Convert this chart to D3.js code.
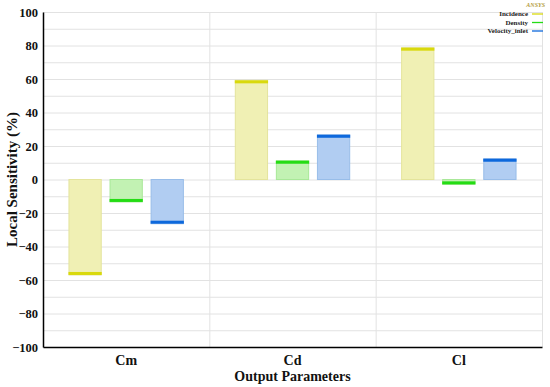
<!DOCTYPE html>
<html>
<head>
<meta charset="utf-8">
<script src="https://cdn.jsdelivr.net/npm/d3@7"></script>
<style>
  body { margin: 0; background: #fff; }
  svg text { font-family: "Liberation Serif", "Times New Roman", serif; font-weight: bold; }
</style>
</head>
<body>
<script>
// values (percent)
const categories = ["Cm", "Cd", "Cl"];
const series = ["Incidence", "Density", "Velocity_inlet"];
const incidence = [-57, 59.2, 78.7];
const density = [-13.4, 11.2, -2.9];
const velocity = [-26.4, 26.7, 12.4];
const yTicks = [-100, -80, -60, -40, -20, 0, 20, 40, 60, 80, 100];

const fills = { Incidence: "#f0f0b4", Density: "#c2f2b3", Velocity_inlet: "#b1cdf2" };
const strokes = { Incidence: "#e4e49c", Density: "#a8e898", Velocity_inlet: "#98bde9" };
const caps = { Incidence: "#d9d90c", Density: "#24dc14", Velocity_inlet: "#0d68dc" };

const W = 550, H = 387;
const margin = { top: 12, right: 8, bottom: 40, left: 43 };
const width = W - margin.left - margin.right,
      height = H - margin.top - margin.bottom;

const svg = d3.select("body").append("svg")
    .attr("width", W)
    .attr("height", H);
const g = svg.append("g")
    .attr("transform", "translate(" + margin.left + "," + margin.top + ")");

const x = d3.scaleBand().domain(categories).range([0, width]).padding(0);
const xs = d3.scaleBand().domain(series).range([0, x.bandwidth()])
    .paddingInner(0.19).paddingOuter(0.62);
const y = d3.scaleLinear().domain([-100, 100]).range([height, 0]);

// horizontal grid every 10
g.append("g").selectAll("line")
    .data(d3.range(-90, 101, 10))
    .join("line")
    .attr("x1", 0).attr("x2", width)
    .attr("y1", d => y(d) + 0.5).attr("y2", d => y(d) + 0.5)
    .attr("stroke", "#e2e2e2");

// vertical separators between categories
g.append("g").selectAll("line")
    .data(categories)
    .join("line")
    .attr("x1", d => x(d) + x.bandwidth() + 0.5)
    .attr("x2", d => x(d) + x.bandwidth() + 0.5)
    .attr("y1", 0).attr("y2", height)
    .attr("stroke", "#e2e2e2");

// bars
const rows = [];
categories.forEach((c, i) => {
    rows.push({ cat: c, s: "Incidence", v: incidence[i] });
    rows.push({ cat: c, s: "Density", v: density[i] });
    rows.push({ cat: c, s: "Velocity_inlet", v: velocity[i] });
});

const bars = g.append("g").selectAll("g")
    .data(rows)
    .join("g")
    .attr("transform", d => "translate(" + (x(d.cat) + xs(d.s)) + ",0)");

bars.append("rect")
    .attr("x", 0.5)
    .attr("width", xs.bandwidth() - 1)
    .attr("y", d => Math.min(y(d.v), y(0)))
    .attr("height", d => Math.abs(y(d.v) - y(0)))
    .attr("fill", d => fills[d.s])
    .attr("stroke", d => strokes[d.s])
    .attr("stroke-width", 1);

bars.append("rect")
    .attr("x", 0)
    .attr("width", xs.bandwidth())
    .attr("y", d => d.v >= 0 ? y(d.v) : y(d.v) - 3)
    .attr("height", 3)
    .attr("fill", d => caps[d.s]);

// axes
const yAxis = g.append("g")
    .call(d3.axisLeft(y).tickValues(yTicks).tickSize(0).tickPadding(5).tickFormat(d3.format("d")));
yAxis.select(".domain").attr("stroke", "#000").attr("stroke-width", 1.5);
yAxis.selectAll("text").attr("font-size", 12.5).attr("fill", "#111")
    .style("font-family", "'Liberation Serif', serif");

const xAxis = g.append("g")
    .attr("transform", "translate(0," + height + ")")
    .call(d3.axisBottom(x).tickSize(0).tickPadding(8));
xAxis.select(".domain").attr("stroke", "#000").attr("stroke-width", 1.5);
xAxis.selectAll("text").attr("font-size", 14).attr("fill", "#111")
    .style("font-family", "'Liberation Serif', serif");

// axis titles
svg.append("text")
    .attr("transform", "translate(17," + (margin.top + height / 2) + ") rotate(-90)")
    .attr("text-anchor", "middle")
    .attr("font-size", 15)
    .attr("fill", "#111")
    .text("Local Sensitivity (%)");

svg.append("text")
    .attr("x", margin.left + width / 2)
    .attr("y", 381)
    .attr("text-anchor", "middle")
    .attr("font-size", 14)
    .attr("fill", "#111")
    .text("Output Parameters");

// legend
const legend = svg.append("g");
series.forEach((s, i) => {
    const ly = 16 + i * 8.5;
    legend.append("text")
        .attr("x", 528).attr("y", ly)
        .attr("text-anchor", "end")
        .attr("font-size", 7)
        .attr("fill", "#222")
        .text(s);
    legend.append("line")
        .attr("x1", 532).attr("x2", 543)
        .attr("y1", ly - 2).attr("y2", ly - 2)
        .attr("stroke", caps[s])
        .attr("stroke-width", 1.3);
});
svg.append("text")
    .attr("x", 545).attr("y", 7)
    .attr("text-anchor", "end")
    .attr("font-size", 6)
    .attr("font-style", "italic")
    .attr("fill", "#b39b3c")
    .text("ANSYS");
</script>
</body>
</html>
